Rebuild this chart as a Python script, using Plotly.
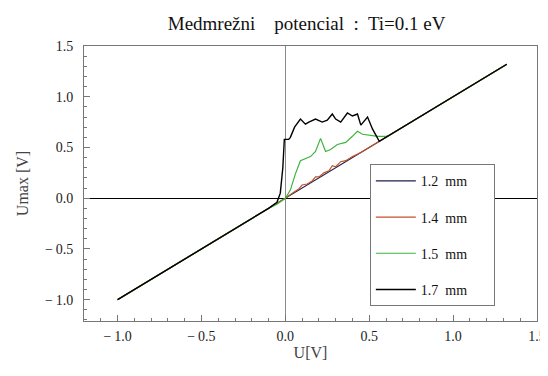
import plotly.graph_objects as go

# ---- data ----
names = ["1.2  mm", "1.4  mm", "1.5  mm", "1.7  mm"]
colors = ["#1c1f4e", "#c0532a", "#3cb43c", "#000000"]

x_12 = [-1.0, 0.0, 0.6, 1.32]
y_12 = [-1.0, 0.0, 0.6, 1.32]

x_14 = [-1.0, 0.0, 0.05, 0.08, 0.10, 0.13, 0.16, 0.18, 0.20, 0.23, 0.26, 0.28,
        0.30, 0.33, 0.36, 0.40, 0.45, 0.50, 0.60, 1.32]
y_14 = [-1.0, 0.0, 0.06, 0.09, 0.13, 0.14, 0.17, 0.21, 0.21, 0.25, 0.27, 0.32,
        0.31, 0.36, 0.37, 0.41, 0.45, 0.50, 0.60, 1.32]

x_15 = [-1.0, -0.10, -0.05, 0.0, 0.03, 0.06, 0.09, 0.12, 0.15, 0.18, 0.21, 0.24,
        0.27, 0.31, 0.36, 0.40, 0.43, 0.46, 0.50, 0.55, 0.60, 0.62, 1.32]
y_15 = [-1.0, -0.10, -0.06, 0.0, 0.08, 0.24, 0.37, 0.39, 0.41, 0.46, 0.59, 0.46,
        0.48, 0.53, 0.55, 0.61, 0.66, 0.63, 0.62, 0.61, 0.61, 0.62, 1.32]

x_17 = [-1.0, -0.10, -0.05, -0.03, -0.015, -0.006, 0.02, 0.03, 0.055, 0.09, 0.12,
        0.14, 0.18, 0.22, 0.25, 0.28, 0.30, 0.33, 0.37, 0.40, 0.43, 0.45, 0.49,
        0.52, 0.56, 1.32]
y_17 = [-1.0, -0.10, -0.04, 0.05, 0.30, 0.58, 0.58, 0.60, 0.70, 0.78, 0.73,
        0.75, 0.78, 0.75, 0.77, 0.83, 0.78, 0.75, 0.84, 0.81, 0.83, 0.72, 0.80,
        0.68, 0.56, 1.32]

tick_vals = [-1.0, -0.5, 0.0, 0.5, 1.0, 1.5]
tick_text = ["\u2212\u20091.0", "\u2212\u20090.5", "0.0", "0.5", "1.0", "1.5"]

series = [(x_12, y_12), (x_14, y_14), (x_15, y_15), (x_17, y_17)]

fig = go.Figure()
for i, ((xs, ys), name, col) in enumerate(zip(series, names, colors)):
    fig.add_trace(go.Scatter(
        x=xs, y=ys, mode="lines", name=name + "\u00a0" * 6, legendgroup=f"g{i}",
        line=dict(color=col, width=1.4 if i == 3 else 1.2),
    ))

serif = "Liberation Serif"
axis_common = dict(
    showline=True, linecolor="#777777", linewidth=1, mirror=True,
    ticks="inside", ticklen=6, tickcolor="#777777", tickwidth=1,
    minor=dict(ticks="inside", ticklen=3, tickcolor="#777777", dtick=0.1),
    showgrid=False, zeroline=True, zerolinewidth=1, automargin=False,
    tickvals=tick_vals, ticktext=tick_text, ticklabeloverflow="allow",
    tickfont=dict(family=serif, size=14, color="#222"),
)

# the page body adds an 8px offset, so the figure is sized to fit the window
fig.update_layout(
    width=540, height=360,
    margin=dict(l=76, r=11, t=38, b=47),
    paper_bgcolor="white", plot_bgcolor="white",
    title=dict(text="Medmrežni    potencial  :  Ti=0.1 eV", x=0.553, xanchor="center",
               y=1 - 15 / 360, yanchor="middle",
               font=dict(family=serif, size=19, color="#111")),
    xaxis=dict(axis_common, range=[-1.2, 1.5], zerolinecolor="#8a8a8a", ticklabelstandoff=2,
               title=dict(text="U[V]", font=dict(family=serif, size=16, color="#444"),
                          standoff=4)),
    yaxis=dict(axis_common, range=[-1.21, 1.5], zerolinecolor="#000000", ticklabelstandoff=7,
               title=dict(text="Umax [V]", font=dict(family=serif, size=16, color="#444"),
                          standoff=12)),
    legend=dict(x=0.631, y=0.570, xanchor="left", yanchor="top",
                bgcolor="white", bordercolor="#777", borderwidth=1,
                font=dict(family=serif, size=14, color="#111"),
                tracegroupgap=15, itemwidth=40),
    showlegend=True,
)

fig.write_html(
    "out.html",
    post_script="document.documentElement.style.overflow='hidden';"
                "document.body.style.overflow='hidden';",
)
